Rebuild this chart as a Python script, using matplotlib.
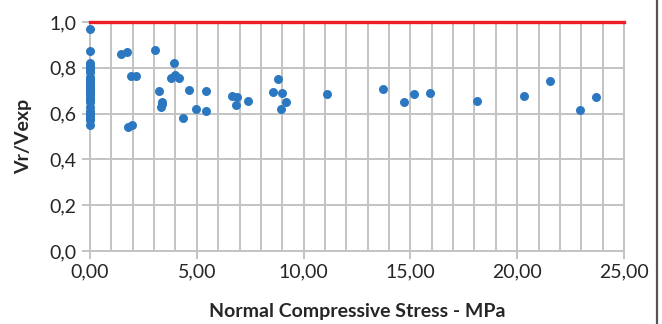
import numpy as np
import matplotlib.pyplot as plt
from matplotlib.ticker import MultipleLocator, FuncFormatter
from matplotlib.lines import Line2D

plt.rcParams['font.family'] = ['Lato', 'DejaVu Sans']

# normal compressive stress (MPa) and Vr/Vexp
stress_zero = [0.0] * 26
ratio_zero = [0.97, 0.875, 0.82, 0.81, 0.80, 0.79, 0.78, 0.76, 0.75, 0.74, 0.73,
              0.72, 0.71, 0.70, 0.69, 0.68, 0.67, 0.66, 0.65, 0.63, 0.61, 0.60,
              0.59, 0.58, 0.57, 0.55]

stress = [1.45, 1.75, 1.9, 2.15, 1.8, 1.95, 3.04, 3.92, 3.78, 3.98, 4.18,
          3.23, 3.37, 3.33, 3.39, 4.37, 4.63, 4.95, 5.43, 5.43,
          6.63, 6.87, 6.84, 7.38, 8.79, 8.58, 8.97, 9.16, 8.94,
          11.11, 13.70, 14.72, 15.18, 15.93, 18.10, 20.33, 21.54, 22.96, 23.68]
ratio = [0.86, 0.87, 0.765, 0.765, 0.54, 0.55, 0.88, 0.82, 0.757, 0.767, 0.754,
         0.70, 0.652, 0.63, 0.64, 0.58, 0.703, 0.62, 0.70, 0.613,
         0.677, 0.671, 0.639, 0.655, 0.751, 0.696, 0.689, 0.652, 0.619,
         0.686, 0.706, 0.651, 0.686, 0.69, 0.656, 0.678, 0.741, 0.616, 0.674]

x_all = stress_zero + stress
y_all = ratio_zero + ratio

fig = plt.figure(figsize=(6.62, 3.24), dpi=100)
ax = fig.add_axes([0.136, 0.2253, 0.8066, 0.7067])

grid_c = '#c3c3c3'
ax.set_xlim(0, 25)
ax.set_ylim(0, 1.0)
ax.xaxis.set_major_locator(MultipleLocator(5))
ax.xaxis.set_minor_locator(MultipleLocator(1))
ax.yaxis.set_major_locator(MultipleLocator(0.2))
ax.grid(True, which='both', axis='x', color=grid_c, lw=1.4)
ax.grid(True, which='major', axis='y', color=grid_c, lw=1.4)
ax.set_axisbelow(True)

ax.spines['top'].set_visible(False)
for s in ['left', 'right', 'bottom']:
    ax.spines[s].set_color(grid_c)
    ax.spines[s].set_linewidth(1.4)

ax.tick_params(axis='x', which='major', length=6, width=1.4, color=grid_c,
               labelsize=14, labelcolor='#262626', pad=3)
ax.tick_params(axis='x', which='minor', length=0)
ax.tick_params(axis='y', length=6, width=1.4, color=grid_c,
               labelsize=14, labelcolor='#262626', pad=4)

ax.xaxis.set_major_formatter(FuncFormatter(lambda v, p: f'{v:.2f}'.replace('.', ',')))
ax.yaxis.set_major_formatter(FuncFormatter(lambda v, p: f'{v:.1f}'.replace('.', ',')))

ax.axhline(1.0, color='#ee1c25', lw=2.4, zorder=3, clip_on=False)
ax.scatter(x_all, y_all, s=42, color='#2b78c0', zorder=4, clip_on=False, linewidths=0)

ax.set_xlabel('Normal Compressive Stress - MPa', fontsize=14, fontweight='bold',
              color='#262626', labelpad=16)
ax.set_ylabel('Vr/Vexp', fontsize=14, fontweight='bold', color='#262626', labelpad=12)

fig.add_artist(Line2D([0.992, 0.992], [0, 1], transform=fig.transFigure,
                      color='#555555', lw=1.6))

fig.savefig('out.png', dpi=100)
